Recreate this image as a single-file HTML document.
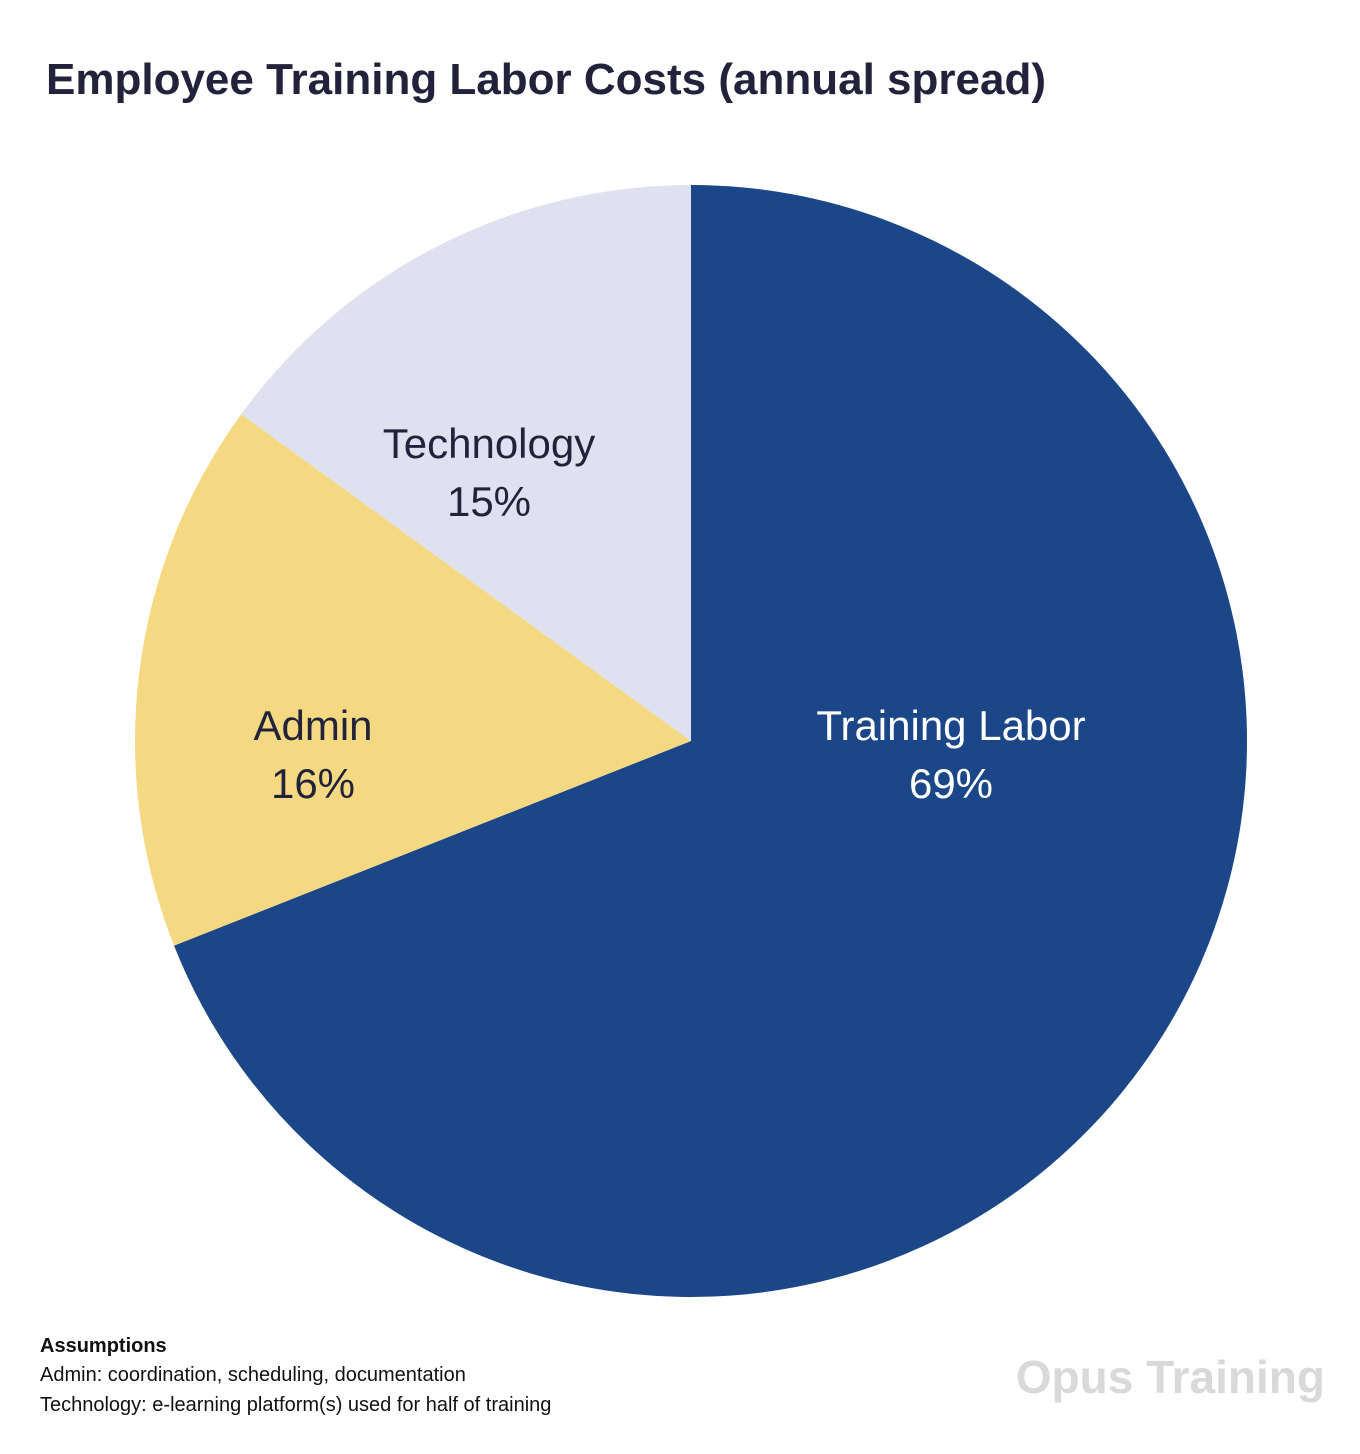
<!DOCTYPE html>
<html><head><meta charset="utf-8"><style>
body{margin:0;background:#fff;width:1360px;height:1449px;overflow:hidden;font-family:"Liberation Sans",sans-serif}
</style></head><body>
<svg id="chart" width="1360" height="1449" xmlns="http://www.w3.org/2000/svg">
<text x="46" y="94" font-size="44" font-weight="bold" fill="#22223b">Employee Training Labor Costs (annual spread)</text>
<g id="slices"></g>
<g id="labels"></g>
<g font-size="20" fill="#111">
<text x="40" y="1352" font-weight="bold">Assumptions</text>
<text x="40" y="1381">Admin: coordination, scheduling, documentation</text>
<text x="40" y="1411">Technology: e-learning platform(s) used for half of training</text>
</g>
<text x="1325" y="1393" text-anchor="end" font-size="46" font-weight="bold" fill="#d9d9d9">Opus Training</text>
</svg>
<script>
const categories=["Training Labor","Admin","Technology"];
const values=[69,16,15];
const colors=["#1b4789","#f4d982","#e0e1f0"];
const textColors=["#ffffff","#22223b","#22223b"];
const labelAnchors=[[951,740],[313,740],[489,458]];
const cx=691,cy=741,r=556;
const ns="http://www.w3.org/2000/svg";
const total=values.reduce((a,b)=>a+b,0);
function pt(a){return [cx+r*Math.sin(a),cy-r*Math.cos(a)];}
let start=0;
const sg=document.getElementById('slices'),lg=document.getElementById('labels');
values.forEach((v,i)=>{
  const ang=v/total*2*Math.PI,end=start+ang;
  const [x1,y1]=pt(start),[x2,y2]=pt(end);
  const p=document.createElementNS(ns,'path');
  p.setAttribute('d',`M${cx},${cy}L${x1},${y1}A${r},${r} 0 ${ang>Math.PI?1:0} 1 ${x2},${y2}Z`);
  p.setAttribute('fill',colors[i]);
  
  
  sg.appendChild(p);
  const t=document.createElementNS(ns,'text');
  
  
  t.setAttribute('text-anchor','middle');t.setAttribute('font-size','42');t.setAttribute('fill',textColors[i]);
  const [lx,ly]=labelAnchors[i];
  const a=document.createElementNS(ns,'tspan');a.setAttribute('x',lx);a.setAttribute('y',ly);a.textContent=categories[i];
  const b=document.createElementNS(ns,'tspan');b.setAttribute('x',lx);b.setAttribute('y',ly+58);b.textContent=v+'%';
  t.appendChild(a);t.appendChild(b);lg.appendChild(t);
  start=end;
});
</script>
</body></html>
